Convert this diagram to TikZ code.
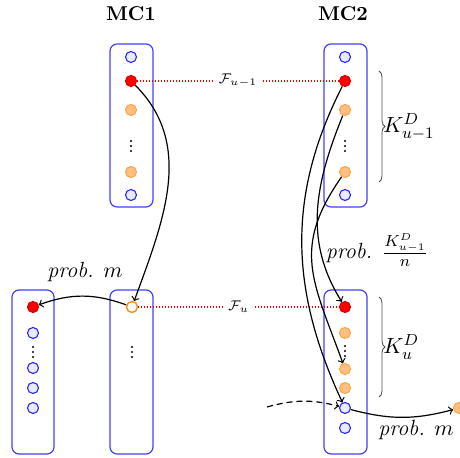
\documentclass[tikz,border=0pt]{standalone}
\usepackage{amsmath,amssymb}
\usetikzlibrary{decorations.pathreplacing}

\begin{document}
\begin{tikzpicture}[x=0.5pt, y=0.5pt, every node/.style={font=\fontsize{11}{13}\selectfont}, >=to,
	colbox/.style={draw=blue!75, line width=0.6pt, rounded corners=3.5pt},
	ball/.style={circle, minimum size=5.5pt, inner sep=0pt, line width=0.55pt},
	emptydot/.style={ball, draw=blue!85, fill=blue!8},
	reddot/.style={ball, draw=red!85!black, fill=red},
	orangedot/.style={ball, draw=orange!70, fill=orange!50},
	opendot/.style={ball, draw=orange!90, fill=white, line width=0.7pt},
	link/.style={draw=red, line width=0.6pt, dash pattern=on 0.6pt off 0.9pt},
	flow/.style={->, semithick},
	flbl/.style={fill=white, text=black, font=\scriptsize, inner sep=2pt},
	kbrace/.style={decorate, decoration={brace, amplitude=3pt}, draw=black!70, line width=0.4pt}]
	\useasboundingbox (0,0) rectangle (460,458);
	\node[font=\normalsize\bfseries] (mc1) at (131,444) {MC1};
	\node[font=\normalsize\bfseries] (mc2) at (343,444) {MC2};
	\draw[colbox] (110,251) rectangle (153,414);
	\draw[colbox] (324,251) rectangle (367,414);
	\draw[colbox] (12,4) rectangle (54,168);
	\draw[colbox] (110,4) rectangle (153,168);
	\draw[colbox] (324,4) rectangle (367,168);
	\foreach \y/\s [count=\i] in {401/emptydot,377/reddot,348/orangedot,286/orangedot,263/emptydot} {
		\node[\s] (a\i) at (131,\y) {};
		\node[\s] (b\i) at (345,\y) {};
	}
	\foreach \y/\s [count=\i] in {151/reddot,125/emptydot,90/emptydot,70/emptydot,50/emptydot} {\node[\s] (l\i) at (33,\y) {};}
	\node[opendot] (m1) at (132,151) {};
	\foreach \y/\s [count=\i] in {151/reddot,125/orangedot,89/orangedot,70/orangedot,50/emptydot,30/emptydot} {\node[\s] (c\i) at (345,\y) {};}
	\node[orangedot] (out) at (459,50) {};
	\foreach \p in {(131,312),(345,312),(33,106),(132,106),(345,107)}
		\foreach \d in {-5,0,5} {\fill[shift={\p}] (0,\d) circle (1.2);}
	\draw[link] (a2) -- node[flbl] {$\mathcal{F}_{u-1}$} (b2);
	\draw[link] (m1) -- node[flbl] {$\mathcal{F}_u$} (c1);
	\draw[flow] (a2) to[out=-45, in=70] (m1);
	\draw[flow] (m1) to[bend right=20] (l1);
	\node (pm1) at (85,186) {\textit{prob.} $m$};
	\draw[flow] (b2) to[out=-117, in=115] (c5);
	\draw[flow] (b3) to[out=-112, in=122] (c1);
	\draw[flow] (b4) to[out=-125, in=110, looseness=1.2] (c3);
	\node (pk) at (377,208) {\textit{prob.} $\frac{K^D_{u-1}}{n}$};
	\coordinate (src) at (267,51);
	\draw[flow, densely dashed] (src) to[bend left=15] (c5);
	\draw[flow] (c5) to[bend right=15] (out);
	\node (pm2) at (416,28) {\textit{prob.} $m$};
	\draw[kbrace] (379,387) -- (379,276) node[midway, right=1pt, inner sep=1pt, text=black] {$K^D_{u-1}$};
	\draw[kbrace] (379,161) -- (379,61) node[midway, right=1pt, inner sep=1pt, text=black] {$K^D_u$};
\end{tikzpicture}
\end{document}
